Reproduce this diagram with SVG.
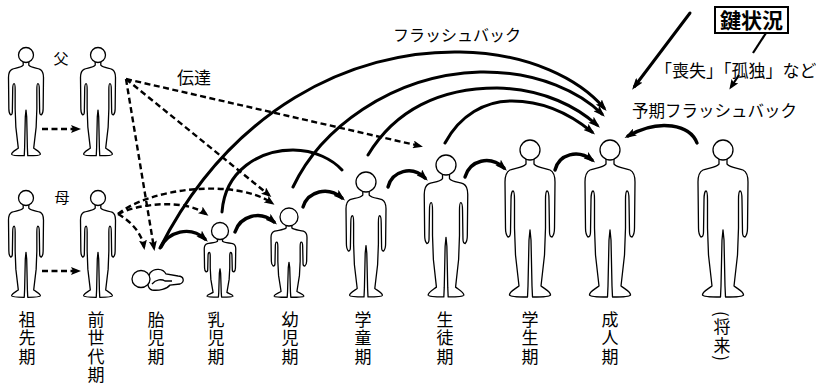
<svg xmlns="http://www.w3.org/2000/svg" xmlns:xlink="http://www.w3.org/1999/xlink" width="816" height="387" viewBox="0 0 816 387">
  <style>
    .fig circle, .fig ellipse, .fig path { fill: #fff; stroke: #000; stroke-width: 1.3; }
    .body { fill: #fff; stroke: #000; stroke-width: 1.3; stroke-linejoin: round; vector-effect: non-scaling-stroke; }
    .arc { fill: none; stroke: #000; stroke-width: 3; stroke-linecap: round; }
    .step { fill: none; stroke: #000; stroke-width: 3.4; stroke-linecap: round; marker-end: url(#ah); }
    .long { marker-end: url(#ah); }
    .dash { fill: none; stroke: #000; stroke-width: 2.4; stroke-dasharray: 6 3.5; marker-end: url(#ahd); }
    .txt { font-family: "Noto Sans CJK JP", "Noto Sans", sans-serif; fill: #000; }
    .lbl { font-family: "Noto Sans CJK JP", "Noto Sans", sans-serif; font-size: 17px; fill: #000; writing-mode: vertical-rl; letter-spacing: 1.5px; }
  </style>
  <defs>
    <marker id="ah" viewBox="0 0 12 8" refX="8" refY="4" markerWidth="12" markerHeight="8" markerUnits="userSpaceOnUse" orient="auto">
      <path d="M0,0 L12,4 L0,8 L2.5,4 Z" fill="#000"/>
    </marker>
    <marker id="ahd" viewBox="0 0 10 8" refX="7" refY="4" markerWidth="10" markerHeight="8" markerUnits="userSpaceOnUse" orient="auto">
      <path d="M0,0 L10,4 L0,8 L2,4 Z" fill="#000"/>
    </marker>
    <!-- standing figure body, origin at the base of the head -->
    <path id="body" class="body" d="M -4,-1 L -4,4 C -7,8 -16,8 -20,10 C -24,12 -25,16 -25,22 L -24.5,68 C -24.5,72 -23,76 -22,77 C -20,77 -19.5,75 -19.5,72 L -19,40 C -19,34 -18,31 -17,31 C -16,31 -15.5,34 -15.5,40 L -15.5,68 L -14.5,95 L -11,126 C -15,129 -21,132 -20.5,135 C -20,137 -10,137 -2.5,137 L -2,126 L -1,80 L 0,70 L 1,80 L 2,126 L 2.5,137 C 10,137 20,137 20.5,135 C 21,132 15,129 11,126 L 14.5,95 L 15.5,68 L 15.5,40 C 15.5,34 16,31 17,31 C 18,31 19,34 19,40 L 19.5,72 C 19.5,75 20,77 22,77 C 23,76 24.5,72 24.5,68 L 25,22 C 25,16 24,12 20,10 C 16,8 7,8 4,4 L 4,-1 Z"/>
  </defs>

  <rect width="816" height="387" fill="#fff"/>

  <!-- figures -->
  <g id="ancestor-father" class="fig">
    <use xlink:href="#body" transform="translate(26,62.5) scale(0.7,0.68)"/>
    <circle cx="26" cy="55" r="7.5"/>
  </g>
  <g id="parent-father" class="fig">
    <use xlink:href="#body" transform="translate(98,62.5) scale(0.7,0.68)"/>
    <circle cx="98" cy="55" r="7.5"/>
  </g>
  <g id="ancestor-mother" class="fig">
    <use xlink:href="#body" transform="translate(26,205.5) scale(0.7,0.67)"/>
    <circle cx="26" cy="198" r="7.5"/>
  </g>
  <g id="parent-mother" class="fig">
    <use xlink:href="#body" transform="translate(98,205.5) scale(0.7,0.67)"/>
    <circle cx="98" cy="198" r="7.5"/>
  </g>
  <g id="fetus" class="fig">
    <path d="M150,273 C 154,268 163,268 166,274 L 178,276 C 184,276 185,282 180,284 L 170,285 C 167,289 159,291 152,290 C 148,289 146,283 150,273 Z"/>
    <path d="M152,284 C 156,279 162,279 165,281 L 172,281" fill="none"/>
    <ellipse cx="141" cy="279" rx="9" ry="8.5"/>
  </g>
  <g id="infant" class="fig">
    <use xlink:href="#body" transform="translate(220,239.5) scale(0.63,0.42)"/>
    <circle cx="220" cy="231" r="8.5"/>
  </g>
  <g id="toddler" class="fig">
    <use xlink:href="#body" transform="translate(289,226) scale(0.72,0.52)"/>
    <circle cx="289" cy="217" r="9"/>
  </g>
  <g id="child" class="fig">
    <use xlink:href="#body" transform="translate(366,192) scale(0.8,0.766)"/>
    <circle cx="366" cy="182" r="10"/>
  </g>
  <g id="pupil" class="fig">
    <use xlink:href="#body" transform="translate(446,175) scale(0.87,0.89)"/>
    <circle cx="446" cy="165" r="10"/>
  </g>
  <g id="student" class="fig">
    <use xlink:href="#body" transform="translate(530,160)"/>
    <circle cx="530" cy="150" r="10"/>
  </g>
  <g id="adult" class="fig">
    <use xlink:href="#body" transform="translate(610,160)"/>
    <circle cx="610" cy="150" r="10"/>
  </g>
  <g id="future" class="fig">
    <use xlink:href="#body" transform="translate(723,160)"/>
    <circle cx="723" cy="150" r="10"/>
  </g>

  <!-- connectors -->
  <g id="connectors">
    <!-- transmission (dashed) -->
    <path class="dash" d="M42,129 L78,129"/>
    <path class="dash" d="M42,271 L78,271"/>
    <path class="dash" d="M126,79 L420,146"/>
    <path class="dash" d="M126,79 L269,195"/>
    <path class="dash" d="M126,79 L154,248"/>
    <path class="dash" d="M118,214 C 150,188 235,178 272,203"/>
    <path class="dash" d="M118,214 C 140,203 185,199 206,214"/>
    <path class="dash" d="M118,214 C 132,222 142,234 144,247"/>

    <!-- flashbacks to adulthood -->
    <path class="arc long" d="M160,248 C 230,110 350,50 460,52 C 530,53 580,80 604,108"/>
    <path class="arc long" d="M293,187 C 320,130 390,75 480,72 C 540,71 582,94 602,114"/>
    <path class="arc long" d="M368,155 C 395,110 440,88 497,88 C 545,89 578,108 597,125"/>
    <path class="arc long" d="M445,143 C 460,115 485,101 512,101 C 548,101 575,118 592,132"/>
    <path class="arc" d="M222,212 C 225,170 260,150 293,150 C 315,150 333,160 342,170"/>

    <!-- stage to stage -->
    <path class="step" d="M161,247 C 168,232 190,225 205,239"/>
    <path class="step" d="M235,232 C 240,216 260,210 274,222"/>
    <path class="step" d="M303,207 C 308,191 328,186 342,198"/>
    <path class="step" d="M388,187 C 392,171 412,165 425,178"/>
    <path class="step" d="M465,177 C 470,160 490,155 504,168"/>
    <path class="step" d="M555,170 C 559,154 578,149 592,160"/>
    <path class="step" d="M697,143 C 690,125 660,118 628,136"/>

    <!-- key situation -->
    <path class="arc long" d="M690,13 L634.5,86.5"/>
    <path d="M766,33 L753,53" fill="none" stroke="#000" stroke-width="2.2"/>
    <path d="M739,75 L731,87" fill="none" stroke="#000" stroke-width="2.2" marker-end="url(#ahd)"/>
  </g>

  <!-- annotations -->
  <g id="key-box">
    <rect x="715" y="7" width="73" height="26" fill="#fff" stroke="#000" stroke-width="2"/>
    <text class="txt" x="751.5" y="27.5" font-size="21" font-weight="bold" text-anchor="middle">鍵状況</text>
  </g>
  <text class="txt" x="393" y="41" font-size="16">フラッシュバック</text>
  <text class="txt" x="177" y="84" font-size="17">伝達</text>
  <text class="txt" x="655" y="77" font-size="17">「喪失」「孤独」など</text>
  <text class="txt" x="632" y="117" font-size="16.5">予期フラッシュバック</text>
  <text class="txt" x="61" y="64" font-size="15" text-anchor="middle">父</text>
  <text class="txt" x="62" y="203" font-size="15" text-anchor="middle">母</text>

  <!-- stage labels -->
  <g id="labels">
    <text class="lbl" x="27" y="311">祖先期</text>
    <text class="lbl" x="96" y="311">前世代期</text>
    <text class="lbl" x="156" y="311">胎児期</text>
    <text class="lbl" x="216" y="311">乳児期</text>
    <text class="lbl" x="290" y="311">幼児期</text>
    <text class="lbl" x="363" y="311">学童期</text>
    <text class="lbl" x="445" y="311">生徒期</text>
    <text class="lbl" x="530" y="311">学生期</text>
    <text class="lbl" x="610" y="311">成人期</text>
    <text class="lbl" x="722" y="311">(将来)</text>
  </g>
</svg>
